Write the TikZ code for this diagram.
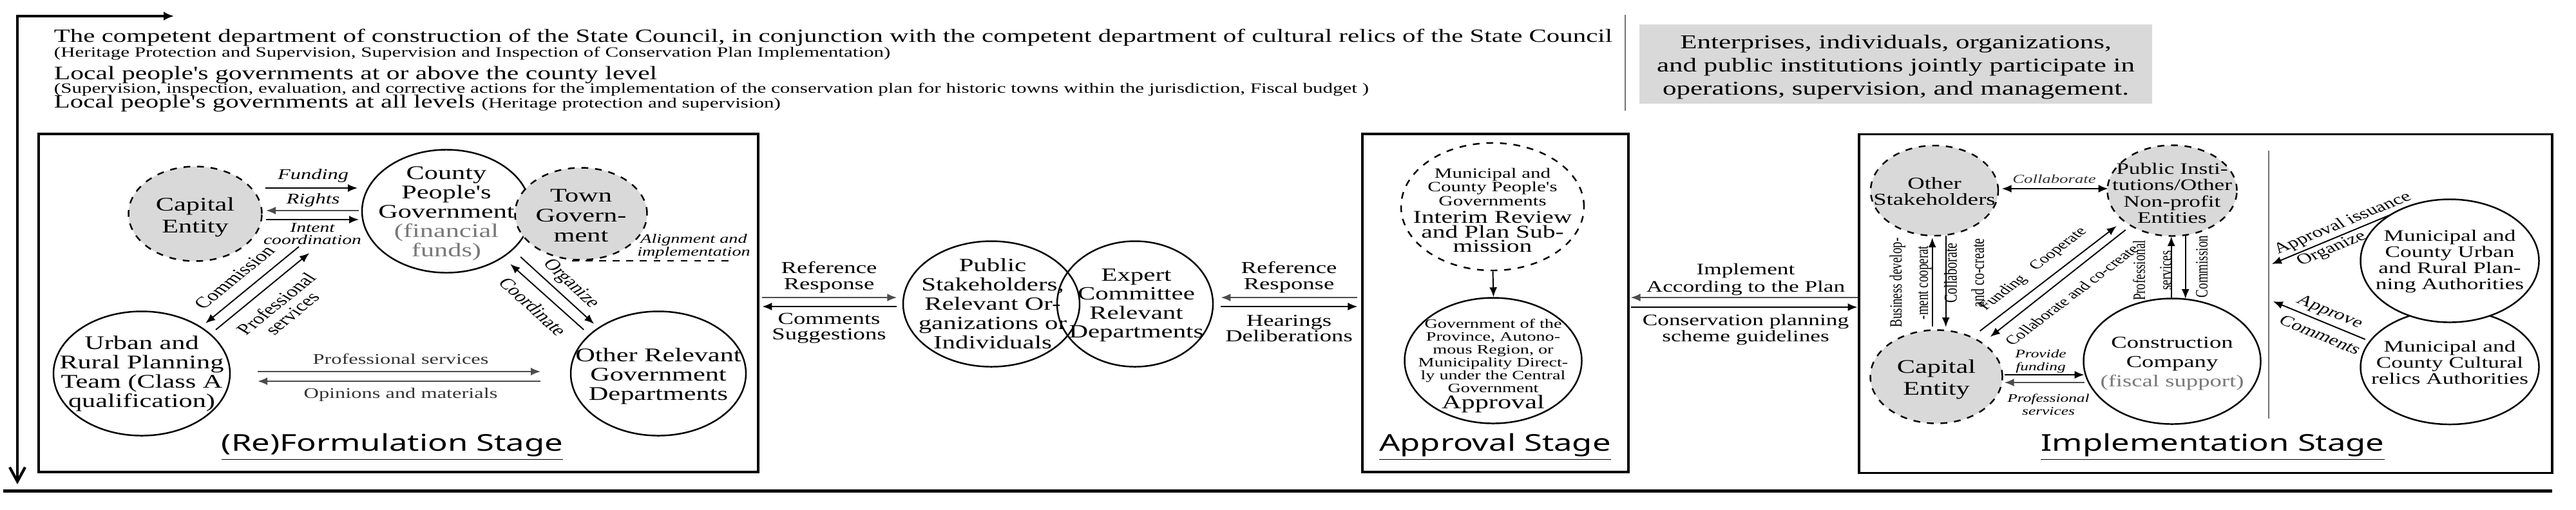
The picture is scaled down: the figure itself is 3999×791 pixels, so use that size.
\documentclass[tikz,border=0pt]{standalone}
\usepackage{fontspec}
\setmainfont{Liberation Serif}
\newfontfamily\stagefont{Noto Sans}
\usetikzlibrary{shapes.geometric,arrows.meta}
\newlength\pxu \setlength\pxu{0.1mm}
\newlength\fsA \newlength\fsB
\newcommand\fs[2]{\setlength\fsA{#1\pxu}\setlength\fsB{#2\pxu}\fontsize{\fsA}{\fsB}\selectfont}
\newcommand\ap{\textquotesingle}
\definecolor{nodegray}{RGB}{217,217,217}
\definecolor{txtgray}{RGB}{120,120,120}
\tikzset{
  sz/.style 2 args={minimum width=#1*0.070922mm, minimum height=#2*0.1mm},
  ell/.style={ellipse, draw, line width=0.7pt, inner sep=0pt},
  dell/.style={ell, dashed, fill=nodegray},
  txt/.style={inner sep=0pt, align=center},
  box/.style={draw, line width=0.9pt, inner sep=0pt},
  conn/.style={line width=0.55pt, -{Latex[length=1.5mm,width=1.2mm]}},
  dconn/.style={line width=0.55pt, {Latex[length=1.5mm,width=1.2mm]}-{Latex[length=1.5mm,width=1.2mm]}},
  stagelbl/.style={inner sep=0pt, anchor=base, font=\stagefont\fs{36}{36}},
}
\begin{document}
\begin{tikzpicture}[xscale=1.41, transform shape, x={(0.070922mm,0)}, y={(0,-0.1mm)}]
\useasboundingbox (0,0) rectangle (3999,791);

% ---------- header ----------
\node[anchor=base west, inner sep=0pt] (h1) at (83,66) {\fs{29}{29}The competent department of construction of the State Council, in conjunction with the competent department of cultural relics of the State Council};
\node[anchor=base west, inner sep=0pt] (h2) at (83,89) {\fs{22}{22}(Heritage Protection and Supervision, Supervision and Inspection of Conservation Plan Implementation)};
\node[anchor=base west, inner sep=0pt] (h3) at (83,124) {\fs{29.5}{29.5}Local people\ap s governments at or above the county level};
\node[anchor=base west, inner sep=0pt] (h4) at (83,145) {\fs{22}{22}(Supervision, inspection, evaluation, and corrective actions for the implementation of the conservation plan for historic towns within the jurisdiction, Fiscal budget )};
\node[anchor=base west, inner sep=0pt] (h5) at (83,167) {\fs{29}{29}Local people\ap s governments at all levels \fs{22}{22}(Heritage protection and supervision)};
\draw[black!55, line width=0.4pt] (2523,23) -- (2523,172);
\node[fill=nodegray, inner sep=0pt, sz={796}{123}] (gbox) at (2943,99.5) {};
\node[txt, font=\fs{30.5}{36}] at (2943,104) {Enterprises, individuals, organizations,\\and public institutions jointly participate in\\operations, supervision, and management.};

% ---------- timeline arrows ----------
\coordinate (tr) at (270,25);
\coordinate (tl) at (27,25);
\coordinate (bl) at (27,752);
\draw[line width=1.2pt, {Latex[length=1.6mm,width=1.4mm]}-{Straight Barb[length=2.2mm,width=2.4mm]}] (tr) -- (tl) -- (bl);
\coordinate (bot1) at (5,762);
\coordinate (bot2) at (3961,762);
\draw[line width=1.4pt] (bot1) -- (bot2);

% ---------- stage boxes ----------
\node[box, sz={1117}{525}] (formbox) at (618.5,470.5) {};
\node[box, sz={413}{525}] (appbox) at (2321.5,470.5) {};
\node[box, sz={1076}{526}] (implbox) at (3424,471.5) {};

% ---------- formulation stage ----------
\node[dell, sz={207}{147}] (cap1) at (303,332) {};
\node[txt, font=\fs{30}{34}] at (303,337) {Capital\\Entity};
\node[ell, sz={262}{191}] (county) at (693,328) {};
\node[txt, font=\fs{30}{30}] at (693,332) {County\\People\ap s\\Government\\\textcolor{txtgray}{(financial}\\\textcolor{txtgray}{funds)}};
\node[dell, sz={205}{143}] (town) at (902,332) {};
\node[txt, font=\fs{30}{31}] at (902,335) {Town\\Govern-\\ment};
\node[txt, font=\itshape\fs{20}{20}] (align) at (1077,383) {Alignment and\\implementation};
\draw[dashed, line width=0.4pt] (888,405) -- (1136,405);
\node[ell, sz={274}{193}] (urban) at (220,580) {};
\node[txt, font=\fs{30}{30}] at (220,580) {Urban and\\Rural Planning\\Team (Class A\\qualification)};
\node[ell, sz={272}{193}] (other) at (1022,580) {};
\node[txt, font=\fs{30}{30}] at (1022,584) {Other Relevant\\Government\\Departments};

\coordinate (fa) at (412,292); \coordinate (fb) at (555,292);
\draw[conn] (fa) -- (fb);
\node[txt, font=\itshape\fs{23}{23}] at (486,273) {Funding};
\coordinate (ra) at (557,327); \coordinate (rb) at (413,327);
\draw[conn, draw=black!70] (ra) -- (rb);
\node[txt, font=\itshape\fs{23}{23}] at (486,311) {Rights};
\coordinate (ia) at (413,341); \coordinate (ib) at (557,341);
\draw[conn] (ia) -- (ib);
\node[txt, font=\itshape\fs{21}{19}] at (485,363) {Intent\\coordination};

\coordinate (ca) at (464,383); \coordinate (cb) at (319,502);
\draw[conn] (ca) -- (cb);
\node[txt, font=\fs{24}{24}, rotate=49] at (364,431) {Commission};
\coordinate (pa) at (335,512); \coordinate (pb) at (480,393);
\draw[conn] (pa) -- (pb);
\node[txt, font=\fs{24}{23}, rotate=49] at (441,479) {Professional\\services};

\coordinate (oa) at (808,399); \coordinate (ob) at (922,503);
\draw[conn] (oa) -- (ob);
\node[txt, font=\fs{24}{24}, rotate=-52] at (886,441) {Organize};
\coordinate (coa) at (906,512); \coordinate (cob) at (792,410);
\draw[conn] (coa) -- (cob);
\node[txt, font=\fs{24}{24}, rotate=-52] at (828,476) {Coordinate};

\coordinate (psa) at (400,577); \coordinate (psb) at (839,577);
\draw[conn, draw=black!70] (psa) -- (psb);
\node[anchor=base, inner sep=0pt, font=\fs{23}{23}, text=black!80] at (622,565) {Professional services};
\coordinate (oma) at (839,592); \coordinate (omb) at (400,592);
\draw[conn, draw=black!70] (oma) -- (omb);
\node[anchor=base, inner sep=0pt, font=\fs{23}{23}, text=black!80] at (622,618) {Opinions and materials};

\node[stagelbl] at (609,700) {\underline{(Re)Formulation Stage}};

% ---------- consultation ----------
\node[ell, sz={274}{195}] (pub) at (1539,472) {};
\node[ell, sz={242}{195}] (exp) at (1762,472) {};
\node[txt, font=\fs{29}{30}] at (1541,472) {Public\\Stakeholders,\\Relevant Or-\\ganizations or\\Individuals};
\node[txt, font=\fs{29}{29.5}] at (1764,474) {Expert\\Committee\\Relevant\\Departments};

\coordinate (l1a) at (1183,462); \coordinate (l1b) at (1392,462);
\draw[conn, draw=black!70] (l1a) -- (l1b);
\coordinate (l2a) at (1392,476); \coordinate (l2b) at (1183,476);
\draw[conn] (l2a) -- (l2b);
\node[txt, font=\fs{26}{25}] at (1287,431) {Reference\\Response};
\node[txt, font=\fs{26}{24}] at (1287,510) {Comments\\Suggestions};

\coordinate (r1a) at (2107,462); \coordinate (r1b) at (1895,462);
\draw[conn, draw=black!70] (r1a) -- (r1b);
\coordinate (r2a) at (1895,476); \coordinate (r2b) at (2107,476);
\draw[conn] (r2a) -- (r2b);
\node[txt, font=\fs{26}{25}] at (2001,431) {Reference\\Response};
\node[txt, font=\fs{26}{24}] at (2001,510) {Hearings\\Deliberations};

% ---------- approval stage ----------
\node[ell, dashed, sz={284}{198}] (sub) at (2317,321) {};
\node[txt, font=\fs{22}{21.5}] at (2317,290) {Municipal and\\County People\ap s\\Governments};
\node[txt, font=\fs{28}{22.5}] at (2317,360) {Interim Review\\and Plan Sub-\\mission};
\node[ell, sz={275}{195}] (app) at (2318,560) {};
\node[txt, font=\fs{20}{20}] at (2318,553) {Government of the\\Province, Autono-\\mous Region, or\\Municipality Direct-\\ly under the Central\\Government};
\node[anchor=base, inner sep=0pt, font=\fs{30}{30}] at (2318,634) {Approval};
\draw[conn] (sub.south) -- (app.north);
\node[stagelbl] at (2321,700) {\underline{Approval Stage}};

\coordinate (i1a) at (2883,462); \coordinate (i1b) at (2531,462);
\draw[conn, draw=black!70] (i1a) -- (i1b);
\coordinate (i2a) at (2531,477); \coordinate (i2b) at (2883,477);
\draw[conn] (i2a) -- (i2b);
\node[txt, font=\fs{25}{27}] at (2710,434) {Implement\\According to the Plan};
\node[txt, font=\fs{25}{25}] at (2710,512) {Conservation planning\\scheme guidelines};

% ---------- implementation stage ----------
\node[dell, sz={198}{140}] (os) at (3003,296) {};
\node[txt, font=\fs{26}{25}] at (3003,297) {Other\\Stakeholders};
\node[dell, sz={201}{141}] (pi) at (3372,296) {};
\node[txt, font=\fs{25}{25.5}] at (3372,300) {Public Insti-\\tutions/Other\\Non-profit\\Entities};
\node[dell, sz={205}{145}] (cap2) at (3006,585) {};
\node[txt, font=\fs{30}{34}] at (3006,589) {Capital\\Entity};
\node[ell, sz={275}{195}] (cc) at (3372,561) {};
\node[txt, font=\fs{26}{30}] at (3372,565) {Construction\\Company\\\textcolor{txtgray}{(fiscal support)}};

\coordinate (cla) at (3107,293); \coordinate (clb) at (3272,293);
\draw[dconn] (cla) -- (clb);
\node[txt, font=\itshape\fs{19}{19}, text=black!80] at (3189,278) {Collaborate};

\coordinate (bua) at (2999,507); \coordinate (bub) at (2999,369);
\draw[conn] (bua) -- (bub);
\coordinate (cda) at (3020,366); \coordinate (cdb) at (3020,508);
\draw[conn] (cda) -- (cdb);
\node[txt, font=\fs{19}{29}, rotate=90] at (2966,439) {Business develop-\\-ment cooperat};
\node[txt, font=\fs{20}{30}, rotate=90] at (3049,424) {Collaborate\\and co-create};

\coordinate (pua) at (3370,464); \coordinate (pub2) at (3370,367);
\draw[conn] (pua) -- (pub2);
\coordinate (cma) at (3392,366); \coordinate (cmb) at (3392,464);
\draw[conn] (cma) -- (cmb);
\node[txt, font=\fs{19}{29}, rotate=90] at (3341,420) {Professional\\services};
\node[txt, font=\fs{19}{19}, rotate=90] at (3418,414) {Commission};

\coordinate (d1a) at (3073,514); \coordinate (d1b) at (3285,351);
\draw[conn] (d1a) -- (d1b);
\coordinate (d2a) at (3299,357); \coordinate (d2b) at (3089,523);
\draw[conn] (d2a) -- (d2b);
\node[txt, font=\fs{20}{20}, rotate=47] at (3110,455) {Funding};
\node[txt, font=\fs{20}{20}, rotate=47] at (3196,387) {Cooperate};
\node[txt, font=\fs{20}{20}, rotate=47] at (3216,458) {Collaborate and co-create};

\coordinate (pfa) at (3111,582); \coordinate (pfb) at (3235,582);
\draw[conn] (pfa) -- (pfb);
\node[txt, font=\itshape\fs{18}{20}] at (3168,561) {Provide\\funding};
\coordinate (psa2) at (3235,594); \coordinate (psb2) at (3111,594);
\draw[conn, draw=black!70] (psa2) -- (psb2);
\node[txt, font=\itshape\fs{18}{20}] at (3180,628) {Professional\\services};

\draw[black!55, line width=0.6pt] (3522,234) -- (3522,650);
\node[ell, sz={277}{178}] (mc) at (3803,570) {};
\node[ell, fill=white, sz={277}{191}] (mu) at (3803,405) {};
\node[txt, font=\fs{25}{25}] at (3803,406) {Municipal and\\County Urban\\and Rural Plan-\\ning Authorities};
\node[txt, font=\fs{25}{25}] at (3803,563) {Municipal and\\County Cultural\\relics Authorities};

\coordinate (aia) at (3709,334); \coordinate (aib) at (3526,410);
\draw[conn] (aia) -- (aib);
\node[txt, font=\fs{23}{23}, rotate=30] at (3637,347) {Approval issuance};
\node[txt, font=\fs{23}{23}, rotate=30] at (3620,387) {Organize};
\coordinate (apa) at (3671,527); \coordinate (apb) at (3528,468);
\draw[conn] (apa) -- (apb);
\node[txt, font=\fs{23}{23}, rotate=-30] at (3616,485) {Approve};
\node[txt, font=\fs{23}{23}, rotate=-30] at (3602,520) {Comments};

\node[stagelbl] at (3435,700) {\underline{Implementation Stage}};
\end{tikzpicture}
\end{document}
